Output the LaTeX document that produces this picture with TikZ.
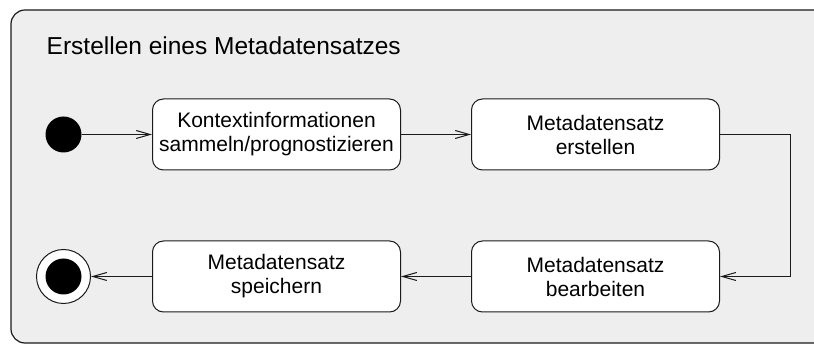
\documentclass[tikz,border=0pt]{standalone}
\usepackage{fontspec}
\setmainfont{Liberation Sans}
\usetikzlibrary{arrows.meta}
\definecolor{framebg}{HTML}{EEEEEE}
\definecolor{edge}{HTML}{1A1A1A}
\begin{document}
\begin{tikzpicture}[x=1pt,y=-1pt,
  action/.style={draw=edge,fill=white,line width=1pt,rounded corners=11pt,
    minimum width=248pt,minimum height=71pt,inner sep=0pt,align=center,
    font=\fontsize{21}{24}\selectfont},
  startdot/.style={circle,fill=black,minimum size=36pt,inner sep=0pt},
  enddot/.style={circle,draw=edge,fill=white,line width=1pt,minimum size=54pt,inner sep=0pt},
  flow/.style={draw=edge,line width=1pt,-{Straight Barb[length=14pt,width=8pt,line width=1pt]}}]
  \useasboundingbox (0,0) rectangle (814,344);
  % activity frame, running past the right edge
  \begin{scope}
    \clip (0,0) rectangle (814,344);
    \draw[edge,fill=framebg,line width=1.2pt,rounded corners=14pt]
      (11,10) rectangle (850,343);
  \end{scope}
  \node[anchor=base west,font=\fontsize{24.5}{28}\selectfont,inner sep=0pt]
    (title) at (46.5,55) {Erstellen eines Metadatensatzes};

  % states
  \node[startdot] (start) at (63.5,134.5) {};
  \node[action] (ctx)  at (276.5,134.5) {Kontextinformationen\\sammeln/prognostizieren};
  \node[action] (make) at (595.5,134.5) {Metadatensatz\\erstellen};
  \node[action] (edit) at (595.5,276.5) {Metadatensatz\\bearbeiten};
  \node[action] (save) at (276.5,276.5) {Metadatensatz\\speichern};
  \node[enddot] (stop) at (63.5,276.5) {};
  \node[startdot] (stopcore) at (stop.center) {};

  % transitions
  \draw[flow] (start) -- (ctx);
  \draw[flow] (ctx) -- (make);
  \coordinate (bend) at (790.5,134.5);
  \draw[flow] (make.east) -- (bend) |- (edit.east);
  \draw[flow] (edit) -- (save);
  \draw[flow] (save) -- (stop);
\end{tikzpicture}
\end{document}
